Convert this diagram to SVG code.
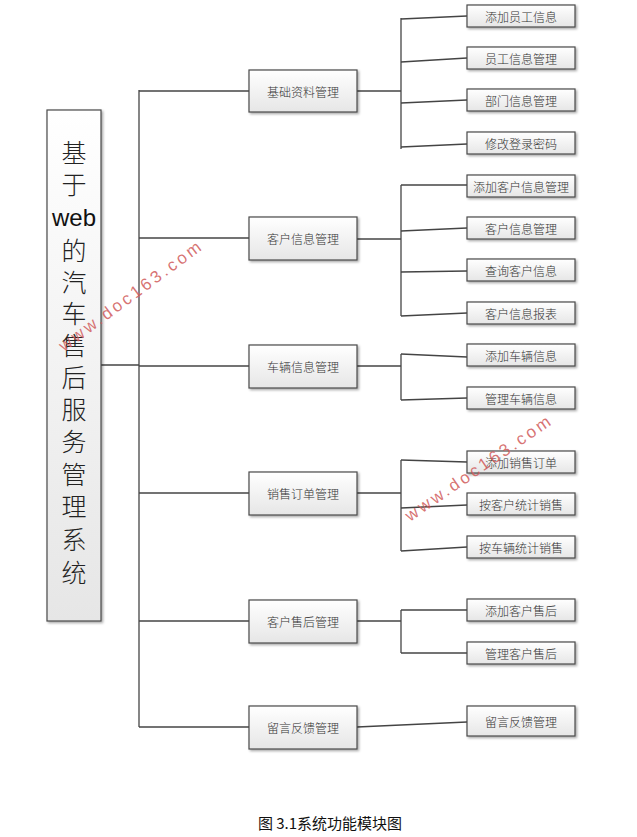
<svg xmlns="http://www.w3.org/2000/svg" width="637" height="837" viewBox="0 0 637 837">
<defs>
<linearGradient id="g" x1="0" y1="0" x2="0" y2="1">
<stop offset="0" stop-color="#ffffff"/>
<stop offset="1" stop-color="#e6e6e6"/>
</linearGradient>
<filter id="sh" x="-10%" y="-10%" width="130%" height="140%">
<feDropShadow dx="1.5" dy="1.5" stdDeviation="1" flood-color="#000" flood-opacity="0.35"/>
</filter>
</defs>
<style>
.box{fill:url(#g);stroke:#4a4a4a;stroke-width:1.2;filter:url(#sh)}
.t{font-family:"Noto Sans CJK SC","Noto Sans",sans-serif;font-size:12px;font-weight:300;fill:#333;text-anchor:middle;dominant-baseline:central}
.r{font-family:"Noto Sans CJK SC","Noto Sans",sans-serif;font-size:25px;font-weight:300;fill:#222;text-anchor:middle;dominant-baseline:central}
.c path,.c line{stroke:#444;stroke-width:1.3;fill:none}
.wm{font-family:"Liberation Sans",Arial,sans-serif;font-size:17px;fill:#d05a5a;fill-opacity:0.85;letter-spacing:3px}
.cap{font-family:"Noto Sans CJK SC","Noto Sans",sans-serif;font-size:15px;fill:#111;text-anchor:middle}
</style>
<rect width="637" height="837" fill="#fff"/>
<g id="connectors" class="c">
<line x1="101" y1="365" x2="139" y2="365"/>
<line x1="139" y1="90" x2="139" y2="727"/>
<line x1="139" y1="91" x2="249" y2="91"/>
<line x1="139" y1="238" x2="249" y2="238"/>
<line x1="139" y1="366" x2="249" y2="366"/>
<line x1="139" y1="493" x2="249" y2="493"/>
<line x1="139" y1="621" x2="249" y2="621"/>
<line x1="139" y1="727" x2="249" y2="727"/>
<line x1="357" y1="91" x2="401" y2="91"/>
<line x1="401" y1="18" x2="401" y2="149"/>
<line x1="401" y1="19" x2="467" y2="16"/>
<line x1="401" y1="62" x2="467" y2="58"/>
<line x1="401" y1="103" x2="467" y2="100"/>
<line x1="401" y1="147" x2="467" y2="144"/>
<line x1="357" y1="239" x2="401" y2="239"/>
<line x1="401" y1="185" x2="401" y2="316"/>
<line x1="401" y1="185" x2="467" y2="185"/>
<line x1="401" y1="231" x2="467" y2="228"/>
<line x1="401" y1="272" x2="467" y2="271"/>
<line x1="401" y1="316" x2="467" y2="313"/>
<line x1="357" y1="366" x2="401" y2="366"/>
<line x1="401" y1="354" x2="401" y2="400"/>
<line x1="401" y1="354" x2="467" y2="357"/>
<line x1="401" y1="400" x2="467" y2="398"/>
<line x1="357" y1="493" x2="401" y2="493"/>
<line x1="401" y1="460" x2="401" y2="551"/>
<line x1="401" y1="460" x2="467" y2="462"/>
<line x1="401" y1="508" x2="467" y2="505"/>
<line x1="401" y1="551" x2="467" y2="547"/>
<line x1="357" y1="621" x2="401" y2="621"/>
<line x1="401" y1="610" x2="401" y2="653"/>
<line x1="401" y1="610" x2="467" y2="610"/>
<line x1="401" y1="653" x2="467" y2="653"/>
<line x1="357" y1="727" x2="467" y2="722"/>
</g>
<g id="root">
<rect class="box" x="47" y="110" width="54" height="511"/>
<text class="r" x="74" y="151">基</text>
<text class="r" x="74" y="183">于</text>
<text x="74" y="226" font-family="Liberation Sans,Arial,sans-serif" font-size="24" fill="#111" text-anchor="middle">web</text>
<text class="r" x="74" y="249">的</text>
<text class="r" x="74" y="281">汽</text>
<text class="r" x="74" y="312">车</text>
<text class="r" x="74" y="344">售</text>
<text class="r" x="74" y="376">后</text>
<text class="r" x="74" y="408">服</text>
<text class="r" x="74" y="440">务</text>
<text class="r" x="74" y="473">管</text>
<text class="r" x="74" y="505">理</text>
<text class="r" x="74" y="538">系</text>
<text class="r" x="74" y="571">统</text>
</g>
<g id="m1"><rect class="box" x="249" y="70" width="108" height="42"/><text class="t" x="303" y="91">基础资料管理</text></g>
<g id="m2"><rect class="box" x="249" y="217" width="108" height="43"/><text class="t" x="303" y="238">客户信息管理</text></g>
<g id="m3"><rect class="box" x="249" y="345" width="108" height="43"/><text class="t" x="303" y="366">车辆信息管理</text></g>
<g id="m4"><rect class="box" x="249" y="472" width="108" height="43"/><text class="t" x="303" y="493">销售订单管理</text></g>
<g id="m5"><rect class="box" x="249" y="600" width="108" height="43"/><text class="t" x="303" y="621">客户售后管理</text></g>
<g id="m6"><rect class="box" x="249" y="706" width="108" height="43"/><text class="t" x="303" y="727">留言反馈管理</text></g>
<g id="l1"><rect class="box" x="467" y="5" width="108" height="22"/><text class="t" x="521" y="16">添加员工信息</text></g>
<g id="l2"><rect class="box" x="467" y="47" width="108" height="22"/><text class="t" x="521" y="58">员工信息管理</text></g>
<g id="l3"><rect class="box" x="467" y="89" width="108" height="22"/><text class="t" x="521" y="100">部门信息管理</text></g>
<g id="l4"><rect class="box" x="467" y="132" width="108" height="22"/><text class="t" x="521" y="143">修改登录密码</text></g>
<g id="l5"><rect class="box" x="467" y="175" width="108" height="22"/><text class="t" x="521" y="186">添加客户信息管理</text></g>
<g id="l6"><rect class="box" x="467" y="217" width="108" height="22"/><text class="t" x="521" y="228">客户信息管理</text></g>
<g id="l7"><rect class="box" x="467" y="259" width="108" height="22"/><text class="t" x="521" y="270">查询客户信息</text></g>
<g id="l8"><rect class="box" x="467" y="302" width="108" height="22"/><text class="t" x="521" y="313">客户信息报表</text></g>
<g id="l9"><rect class="box" x="467" y="344" width="108" height="22"/><text class="t" x="521" y="355">添加车辆信息</text></g>
<g id="l10"><rect class="box" x="467" y="387" width="108" height="22"/><text class="t" x="521" y="398">管理车辆信息</text></g>
<g id="l11"><rect class="box" x="467" y="451" width="108" height="22"/><text class="t" x="521" y="462">添加销售订单</text></g>
<g id="l12"><rect class="box" x="467" y="493" width="108" height="22"/><text class="t" x="521" y="504">按客户统计销售</text></g>
<g id="l13"><rect class="box" x="467" y="536" width="108" height="22"/><text class="t" x="521" y="547">按车辆统计销售</text></g>
<g id="l14"><rect class="box" x="467" y="599" width="108" height="22"/><text class="t" x="521" y="610">添加客户售后</text></g>
<g id="l15"><rect class="box" x="467" y="642" width="108" height="22"/><text class="t" x="521" y="653">管理客户售后</text></g>
<g id="l16"><rect class="box" x="467" y="706" width="108" height="30"/><text class="t" x="521" y="721">留言反馈管理</text></g>
<text class="wm" transform="translate(64,352) rotate(-36.5)">www.doc163.com</text>
<text class="wm" transform="translate(410,522) rotate(-34.5)">www.doc163.com</text>
<text class="cap" x="330" y="829">图 3.1系统功能模块图</text>
</svg>
